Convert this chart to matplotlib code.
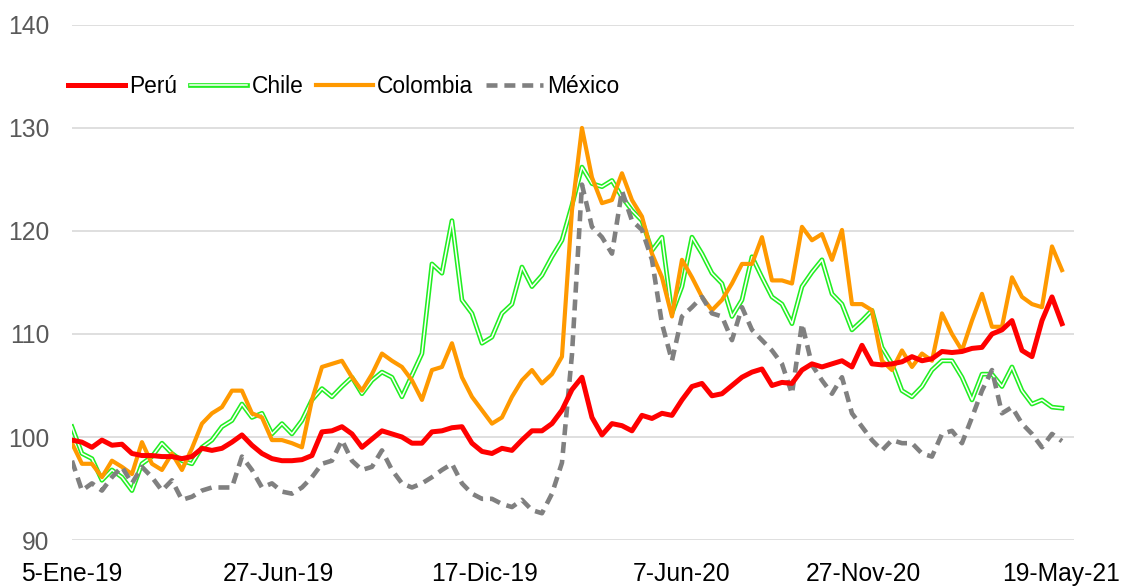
import numpy as np
import matplotlib
matplotlib.use("Agg")
import matplotlib.pyplot as plt

plt.rcParams['font.family'] = ['Liberation Sans', 'DejaVu Sans']

# index series, one value per sampled observation (5-Ene-19 .. May-21)
peru = [99.7, 99.5, 99.0, 99.7, 99.2, 99.3, 98.4, 98.2, 98.2, 98.1,
        98.1, 97.9, 98.1, 98.9, 98.7, 98.9, 99.5, 100.2, 99.2, 98.4,
        97.9, 97.7, 97.7, 97.8, 98.2, 100.5, 100.6, 101.0, 100.3, 99.0,
        99.8, 100.6, 100.3, 100.0, 99.4, 99.4, 100.5, 100.6, 100.9, 101.0,
        99.4, 98.6, 98.4, 98.9, 98.7, 99.7, 100.6, 100.6, 101.3, 102.6,
        104.6, 105.8, 101.9, 100.2, 101.3, 101.1, 100.6, 102.1, 101.8, 102.3,
        102.1, 103.6, 104.9, 105.2, 104.0, 104.2, 105.0, 105.8, 106.3, 106.6,
        105.0, 105.3, 105.2, 106.5, 107.1, 106.8, 107.1, 107.4, 106.8, 108.9,
        107.1, 107.0, 107.1, 107.3, 107.8, 107.4, 107.6, 108.3, 108.2, 108.3,
        108.6, 108.7, 110.0, 110.4, 111.3, 108.4, 107.8, 111.3, 113.6, 111.0]

chile = [101.0, 98.4, 97.9, 95.8, 96.8, 96.1, 94.8, 97.4, 98.1, 99.4,
         98.4, 97.7, 97.4, 99.0, 99.7, 101.0, 101.6, 103.2, 101.9, 102.3,
         100.3, 101.3, 100.3, 101.6, 103.6, 104.7, 103.9, 104.9, 105.8, 104.2,
         105.5, 106.3, 105.8, 103.9, 106.0, 108.1, 116.8, 115.9, 121.0, 113.3,
         112.0, 109.1, 109.7, 112.0, 112.9, 116.5, 114.6, 115.7, 117.5, 119.1,
         122.5, 126.2, 124.6, 124.3, 124.9, 123.3, 122.0, 121.0, 118.1, 119.4,
         112.0, 114.6, 119.4, 117.8, 115.9, 114.9, 111.7, 113.3, 117.5, 115.5,
         113.6, 112.9, 111.0, 114.6, 116.0, 117.2, 113.9, 112.9, 110.4, 111.3,
         112.3, 108.7, 107.1, 104.5, 103.9, 104.9, 106.5, 107.4, 107.4, 105.8,
         103.6, 106.1, 106.1, 104.9, 106.8, 104.5, 103.2, 103.6, 102.9, 102.8]

colombia = [99.4, 97.4, 97.4, 96.1, 97.7, 97.1, 96.4, 99.5, 97.4, 96.8,
            98.4, 96.8, 98.9, 101.3, 102.3, 102.9, 104.5, 104.5, 102.3, 101.9,
            99.7, 99.7, 99.4, 99.0, 103.6, 106.8, 107.1, 107.4, 105.8, 104.5,
            106.1, 108.1, 107.4, 106.8, 105.5, 103.6, 106.5, 106.8, 109.1, 105.8,
            103.9, 102.6, 101.3, 101.9, 103.9, 105.5, 106.5, 105.2, 106.1, 107.8,
            122.0, 130.0, 125.2, 122.7, 123.0, 125.6, 123.0, 121.4, 117.8, 115.5,
            111.7, 117.2, 115.5, 113.6, 112.3, 113.3, 114.9, 116.8, 116.8, 119.4,
            115.2, 115.2, 114.9, 120.4, 119.1, 119.7, 117.2, 120.1, 112.9, 112.9,
            112.3, 107.4, 106.5, 108.4, 106.8, 108.1, 107.4, 112.0, 110.0, 108.4,
            111.3, 113.9, 110.7, 110.7, 115.5, 113.6, 112.9, 112.6, 118.5, 116.2]

mexico = [97.7, 94.8, 95.5, 94.8, 96.1, 97.1, 95.5, 97.1, 96.1, 94.8,
          95.8, 93.9, 94.2, 94.8, 95.1, 95.1, 95.1, 98.1, 96.8, 95.1,
          95.5, 94.7, 94.5, 95.1, 96.1, 97.4, 97.7, 99.7, 97.7, 96.8,
          97.1, 98.7, 96.8, 95.5, 95.1, 95.5, 96.1, 96.8, 97.4, 95.5,
          94.5, 94.0, 94.0, 93.5, 93.2, 93.9, 92.9, 92.6, 94.5, 97.5,
          108.0, 124.5, 120.4, 119.4, 117.8, 123.9, 121.0, 120.1, 117.2, 111.0,
          107.4, 111.7, 112.6, 113.6, 112.0, 111.7, 109.4, 112.6, 110.4, 109.4,
          108.4, 107.1, 104.2, 111.0, 107.0, 105.5, 104.2, 105.8, 102.3, 101.0,
          99.7, 98.7, 99.7, 99.4, 99.4, 98.4, 98.1, 100.3, 100.6, 99.4,
          101.9, 104.5, 106.5, 102.3, 102.9, 101.3, 100.3, 99.0, 100.3, 99.6]

tick_labels = ['5-Ene-19', '27-Jun-19', '17-Dic-19', '7-Jun-20', '27-Nov-20', '19-May-21']
tick_pos = [0, 20.6, 41.3, 61.0, 79.1, 98.9]

x = np.arange(len(peru))

fig = plt.figure(figsize=(11.24, 5.88), dpi=100)
ax = fig.add_axes([0.064, 0.0816, 0.8915, 0.876])

# Chile drawn as a double line (green outline, white core)
ch_out, = ax.plot(x, chile, color='#22ee22', lw=3.4, zorder=2, solid_joinstyle='round')
ch_in, = ax.plot(x, chile, color='white', lw=1.1, zorder=2.1, solid_joinstyle='round')
co, = ax.plot(x, colombia, color='#ff9900', lw=3.0, zorder=3, solid_joinstyle='round')
mx, = ax.plot(x, mexico, color='#808080', lw=3.3, dashes=(2.4, 1.5), zorder=4)
pe, = ax.plot(x, peru, color='#ff0000', lw=3.6, zorder=5, solid_joinstyle='round')

ax.set_ylim(90, 140)
ax.set_yticks([90, 100, 110, 120, 130, 140])
ax.set_xlim(0, 100.2)
ax.set_xticks(tick_pos)
ax.set_xticklabels(tick_labels)

ax.grid(axis='y', color='#d9d9d9', lw=1.2)
ax.set_axisbelow(True)
for s in ax.spines.values():
    s.set_visible(False)
ax.tick_params(axis='both', length=0, labelsize=17.7)
ax.tick_params(axis='y', pad=16, labelcolor='#595959')
ax.tick_params(axis='x', pad=15.5, labelcolor='black')

ax.legend([pe, (ch_out, ch_in), co, mx], ['Perú', 'Chile', 'Colombia', 'México'],
          loc='center left', bbox_to_anchor=(-0.004, 0.88), ncol=4, frameon=False,
          fontsize=16.4, handlelength=2.5, handletextpad=0.2, columnspacing=0.55,
          borderaxespad=0, borderpad=0)

fig.savefig('out.png', dpi=100)
